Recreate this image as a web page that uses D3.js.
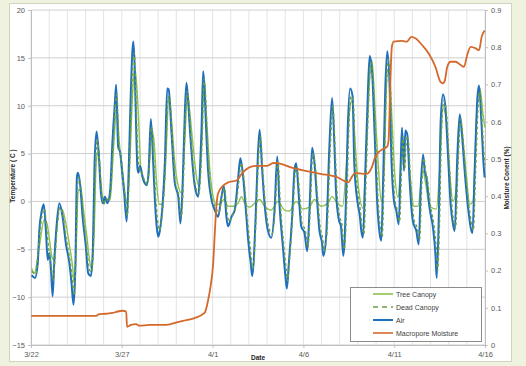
<!DOCTYPE html>
<html>
<head>
<meta charset="utf-8">
<script src="https://cdn.jsdelivr.net/npm/d3@7"></script>
<style>
  body { margin: 0; background: #eef2df; }
  svg { display: block; font-family: "Liberation Sans", Arial, sans-serif; }
</style>
</head>
<body>
<div id="chart"></div>
<script>
// days since 3/22 00:00, value
const dateTicks = ["3/22", "3/27", "4/1", "4/6", "4/11", "4/16"];
const tempTicks = [-15, -10, -5, 0, 5, 10, 15, 20];
const moistTicks = [0, 0.1, 0.2, 0.3, 0.4, 0.5, 0.6, 0.7, 0.8, 0.9];

const air = [[0.04,-7.7],[0.22,-8.0],[0.37,-6.5],[0.46,-3.0],[0.59,-1.0],[0.70,-0.3],[0.82,-3.0],[0.92,-6.1],[1.01,-5.4],
  [1.10,-7.1],[1.19,-9.9],[1.28,-6.4],[1.39,-3.0],[1.56,-0.2],[1.74,-1.6],[1.92,-4.4],[2.11,-6.4],[2.23,-8.5],[2.34,-10.8],
  [2.44,-7.1],[2.53,2.6],[2.58,3.0],[2.71,1.7],[2.84,-1.6],[3.02,-4.7],[3.15,-7.5],[3.30,-7.8],[3.41,-4.7],[3.50,4.0],
  [3.61,7.3],[3.74,4.7],[3.85,0.9],[3.96,-0.2],[4.07,0.5],[4.21,-0.2],[4.36,1.2],[4.49,6.4],[4.62,10.3],[4.69,12.2],
  [4.80,5.7],[4.91,5.1],[5.02,3.0],[5.13,0.9],[5.27,-2.1],[5.38,3.3],[5.49,11.0],[5.59,15.9],[5.64,16.7],[5.71,14.0],
  [5.78,8.5],[5.86,3.5],[5.91,3.0],[6.00,3.7],[6.18,2.3],[6.37,1.7],[6.48,3.3],[6.60,8.6],[6.73,4.0],[6.82,0.2],
  [6.92,-2.6],[7.01,-3.7],[7.10,-3.0],[7.25,-0.2],[7.37,4.0],[7.50,11.8],[7.58,11.7],[7.74,7.1],[7.92,1.9],[8.11,0.5],
  [8.23,-2.3],[8.34,1.2],[8.47,9.2],[8.56,12.4],[8.66,10.3],[8.75,7.5],[8.89,4.0],[9.02,1.6],[9.21,0.5],[9.30,3.0],
  [9.39,7.5],[9.48,13.6],[9.56,11.7],[9.63,8.2],[9.75,3.3],[9.94,0.2],[10.12,-0.9],[10.30,-1.6],[10.49,0.5],[10.62,1.6],
  [10.76,-1.6],[10.85,-2.6],[11.04,-1.6],[11.22,-0.9],[11.40,2.3],[11.53,4.5],[11.68,2.6],[11.86,-1.6],[11.95,-3.8],
  [12.04,-5.5],[12.10,-6.4],[12.18,-7.8],[12.37,-1.6],[12.49,4.7],[12.59,7.5],[12.73,3.3],[12.86,-0.2],[13.04,-3.0],
  [13.23,-3.8],[13.41,-0.9],[13.56,4.7],[13.68,-0.2],[13.87,-4.7],[14.01,-7.8],[14.09,-9.1],[14.20,-6.4],[14.38,-1.6],
  [14.51,3.3],[14.60,4.0],[14.75,0.5],[14.88,-2.6],[15.06,-3.3],[15.21,-5.2],[15.33,-1.2],[15.48,5.6],[15.61,4.0],
  [15.74,0.5],[15.88,-3.0],[16.03,-4.4],[16.10,-5.7],[16.25,-3.7],[16.43,5.7],[16.58,10.8],[16.71,5.7],[16.80,0.9],
  [16.95,-1.9],[17.07,-2.6],[17.20,-5.7],[17.35,0.5],[17.44,7.5],[17.57,11.8],[17.71,11.0],[17.80,4.0],[17.99,-0.2],
  [18.10,-1.4],[18.19,-3.1],[18.28,-3.8],[18.41,3.2],[18.56,11.9],[18.65,15.2],[18.78,13.6],[18.93,6.7],[19.07,-0.3],
  [19.20,-3.4],[19.29,-4.1],[19.38,1.4],[19.51,11.9],[19.62,15.7],[19.75,11.9],[19.84,4.9],[19.99,0],[20.12,-1.0],
  [20.25,-2.4],[20.36,4.2],[20.43,7.7],[20.54,3.2],[20.61,7.4],[20.72,7.0],[20.85,2.1],[21.03,-2.1],[21.22,-3.1],
  [21.35,-4.5],[21.46,1.4],[21.59,4.9],[21.68,3.2],[21.77,2.5],[21.95,-0.7],[22.14,-2.8],[22.27,-5.5],[22.34,-8.0],
  [22.45,-2.1],[22.56,8.4],[22.69,11.2],[22.82,9.8],[22.96,4.9],[23.11,-0.3],[23.24,-2.4],[23.33,-3.1],[23.48,4.9],
  [23.61,9.1],[23.73,7.0],[23.88,3.2],[24.07,-0.7],[24.31,-3.3],[24.43,3.2],[24.58,10.8],[24.67,12.1],[24.80,8.4],
  [24.91,4.2],[24.98,2.5]];

const treeCanopy = [[0.04,-7.0],[0.18,-7.5],[0.46,-4.7],[0.73,-1.9],[0.88,-2.3],[1.00,-3.7],[1.14,-5.7],[1.25,-6.1],
  [1.37,-3.7],[1.59,-0.7],[1.74,-0.9],[1.92,-2.3],[2.10,-4.4],[2.29,-6.8],[2.38,-8.5],[2.49,-4.7],[2.60,1.2],[2.75,1.2],
  [2.89,-0.9],[3.08,-3.7],[3.22,-6.1],[3.35,-7.1],[3.48,-3.0],[3.59,4.0],[3.72,5.4],[3.81,3.0],[3.94,0.5],[4.12,0],
  [4.36,0.3],[4.54,5.4],[4.73,9.9],[4.85,6.4],[5.04,3.3],[5.22,0.2],[5.31,-0.2],[5.44,4.0],[5.59,11.0],[5.71,14.1],
  [5.86,11.0],[5.96,7.0],[6.05,3.3],[6.27,1.9],[6.46,2.3],[6.64,7.5],[6.77,6.4],[6.92,1.9],[7.06,-0.3],[7.25,-0.3],
  [7.43,4.7],[7.59,11.0],[7.74,8.5],[7.92,4.0],[8.11,1.6],[8.29,0.9],[8.47,6.4],[8.62,11.3],[8.75,9.2],[8.93,5.7],
  [9.11,2.6],[9.26,1.6],[9.41,6.4],[9.53,12.7],[9.66,8.9],[9.85,3.3],[10.03,0.5],[10.21,-0.3],[10.40,-0.3],[10.62,0.2],
  [10.85,-0.5],[11.13,-0.5],[11.40,-0.2],[11.59,0.5],[11.77,-0.2],[12.04,-0.6],[12.31,-0.2],[12.59,0.2],[12.86,-0.5],
  [13.23,-0.9],[13.59,0],[13.96,-0.9],[14.23,-1.0],[14.60,0],[14.97,-0.8],[15.33,-0.6],[15.61,0.2],[15.97,-0.5],
  [16.34,-0.2],[16.58,0.5],[16.90,-0.3],[17.16,-0.5],[17.35,3.3],[17.53,9.2],[17.68,10.6],[17.80,7.5],[17.99,2.3],
  [18.28,-0.7],[18.46,4.9],[18.65,12.9],[18.78,14.7],[18.93,10.1],[19.11,4.2],[19.29,0],[19.44,3.2],[19.62,13.6],
  [19.75,13.3],[19.88,8.4],[20.02,3.2],[20.21,0.4],[20.39,4.2],[20.54,5.6],[20.72,6.0],[20.90,2.1],[21.08,-0.5],
  [21.31,-0.5],[21.58,3.2],[21.77,1.4],[21.95,-0.5],[22.32,-0.8],[22.50,3.2],[22.69,9.8],[22.87,8.4],[23.05,3.2],
  [23.24,0],[23.42,1.4],[23.64,8.7],[23.79,6.3],[23.97,2.8],[24.16,-0.3],[24.34,0],[24.53,8.4],[24.71,11.9],
  [24.89,9.1],[25.00,7.7]];

const deadCanopy = [[0.05,-7.3],[0.25,-7.6],[0.45,-4.0],[0.6,-1.5],[0.74,-0.8],[0.86,-2.8],[0.98,-5.0],[1.1,-6.5],
  [1.22,-8.3],[1.32,-6.0],[1.45,-2.5],[1.6,-0.6],[1.76,-1.5],[1.95,-4.0],[2.15,-6.2],[2.3,-8.5],[2.38,-9.8],[2.47,-6.0],
  [2.56,1.5],[2.62,2.5],[2.76,1.2],[2.9,-1.8],[3.05,-4.5],[3.2,-7.0],[3.33,-7.4],[3.45,-4.0],[3.54,3.0],[3.64,6.5],
  [3.77,4.2],[3.9,0.5],[4.0,-0.3],[4.15,0.3],[4.3,0],[4.4,1.5],[4.53,6.0],[4.66,10.5],[4.73,11.2],[4.84,6.0],[4.95,4.5],
  [5.08,2.0],[5.2,0.3],[5.3,-1.5],[5.42,3.5],[5.53,10.5],[5.63,15.2],[5.68,15.5],[5.76,12.0],[5.86,6.0],[5.95,3.5],
  [6.1,3.0],[6.25,2.2],[6.4,1.8],[6.52,4.0],[6.63,7.8],[6.76,4.5],[6.86,0.6],[6.97,-2.0],[7.06,-3.0],[7.15,-2.5],
  [7.3,0.3],[7.42,4.5],[7.54,10.8],[7.62,11.0],[7.78,6.5],[7.95,2.0],[8.14,0.6],[8.27,-1.6],[8.38,1.5],[8.5,8.8],
  [8.6,11.5],[8.7,10.0],[8.8,7.0],[8.93,3.8],[9.06,1.6],[9.24,0.8],[9.35,3.2],[9.44,7.5],[9.52,12.8],[9.6,11.5],
  [9.68,8.0],[9.8,3.2],[9.98,0.3],[10.16,-0.6],[10.34,-1.2],[10.52,0.6],[10.65,1.4],[10.8,-1.2],[10.9,-2.1],
  [11.08,-1.4],[11.26,-0.7],[11.44,2.0],[11.57,4.0],[11.72,2.4],[11.9,-1.5],[12.08,-5.0],[12.22,-7.0],[12.4,-1.5],
  [12.52,4.2],[12.63,6.8],[12.77,3.0],[12.9,-0.2],[13.08,-2.6],[13.27,-3.4],[13.45,-0.6],[13.6,4.2],[13.72,0],
  [13.9,-4.2],[14.05,-7.0],[14.13,-8.3],[14.24,-6.0],[14.42,-1.2],[14.55,3.0],[14.64,3.6],[14.8,0.5],[14.92,-2.3],
  [15.1,-3.0],[15.25,-4.8],[15.37,-1.0],[15.52,5.0],[15.65,3.8],[15.78,0.5],[15.92,-2.6],[16.07,-4.0],[16.14,-5.2],
  [16.3,-3.2],[16.47,5.2],[16.62,10.0],[16.75,5.4],[16.85,1.0],[17.0,-1.6],[17.12,-2.4],[17.25,-5.0],[17.4,0.6],
  [17.49,7.0],[17.62,11.0],[17.76,10.0],[17.86,4.0],[18.04,0.5],[18.15,-1.2],[18.24,-2.8],[18.33,-3.4],[18.46,3.0],
  [18.6,11.2],[18.7,14.5],[18.83,13.0],[18.98,6.5],[19.12,-0.1],[19.25,-3.0],[19.34,-3.7],[19.43,1.5],[19.56,11.5],
  [19.67,14.8],[19.8,11.5],[19.9,4.8],[20.04,0.2],[20.17,-0.9],[20.3,-2.1],[20.41,3.8],[20.48,6.8],[20.59,3.5],
  [20.66,6.8],[20.77,6.5],[20.9,2.2],[21.08,-1.8],[21.27,-2.8],[21.4,-4.0],[21.51,1.4],[21.64,4.5],[21.73,3.2],
  [21.82,2.4],[22.0,-0.5],[22.19,-2.5],[22.32,-5.0],[22.39,-7.2],[22.5,-2.0],[22.61,7.8],[22.74,10.5],[22.87,9.5],
  [23.01,4.8],[23.16,-0.1],[23.29,-2.2],[23.38,-2.8],[23.53,4.5],[23.66,8.6],[23.78,6.8],[23.93,3.0],[24.12,-0.5],
  [24.36,-3.0],[24.48,3.0],[24.63,10.2],[24.72,11.5],[24.85,8.0],[24.96,4.5],[25.0,3.8]];

const moisture = [[0.02,0.078],[3.58,0.078],[3.76,0.083],[4.13,0.084],[4.5,0.086],[4.77,0.09],[5.05,0.092],[5.24,0.09],
  [5.29,0.049],[5.51,0.054],[5.79,0.056],[5.97,0.052],[6.53,0.054],[7.45,0.054],[8.19,0.063],[8.37,0.065],[8.92,0.071],
  [9.57,0.087],[9.75,0.12],[9.88,0.155],[10.03,0.218],[10.12,0.30],[10.18,0.353],[10.3,0.407],[10.58,0.428],
  [10.86,0.437],[11.32,0.442],[11.6,0.46],[12.06,0.478],[12.43,0.481],[12.98,0.481],[13.35,0.489],[13.72,0.487],
  [14.27,0.478],[15.0,0.469],[15.93,0.46],[16.85,0.451],[17.48,0.437],[17.66,0.451],[17.85,0.462],[18.31,0.46],
  [18.49,0.46],[18.77,0.478],[18.95,0.505],[19.14,0.518],[19.41,0.527],[19.6,0.532],[19.69,0.55],[19.78,0.693],
  [19.87,0.801],[19.97,0.815],[20.43,0.817],[20.7,0.815],[20.8,0.82],[20.94,0.828],[21.17,0.824],[21.53,0.806],
  [21.9,0.783],[22.27,0.747],[22.55,0.707],[22.68,0.703],[22.79,0.711],[22.92,0.747],[23.1,0.761],[23.38,0.761],
  [23.66,0.752],[23.84,0.747],[24.02,0.779],[24.21,0.801],[24.49,0.797],[24.67,0.792],[24.82,0.828],[24.94,0.842],
  [25.0,0.844]];

const colors = {tree: '#8cc152', dead: '#6a9e45', air: '#1f6fbd', moist: '#d5692b'};

const W = 526, H = 366;
const plot = {left: 31, right: 485, top: 10, bottom: 345};

const parseDate = d3.utcParse('%m/%d/%Y');
const tickDates = dateTicks.map(t => parseDate(t + '/2013'));
const start = tickDates[0], end = tickDates[tickDates.length - 1];
const toDate = d => new Date(start.getTime() + d * 864e5);

const x = d3.scaleUtc().domain([start, end]).range([plot.left, plot.right]);
const yT = d3.scaleLinear().domain([-15, 20]).range([plot.bottom, plot.top]);
const yM = d3.scaleLinear().domain([0, 0.9]).range([plot.bottom, plot.top]);

const svg = d3.select('#chart').append('svg')
    .attr('width', W)
    .attr('height', H);

svg.append('rect')
    .attr('x', 9.5).attr('y', 3.5)
    .attr('width', 502).attr('height', 358)
    .attr('fill', '#fff')
    .attr('stroke', '#cfd6bf');

// day gridlines
svg.append('g')
    .selectAll('line')
    .data(d3.utcDay.range(start, d3.utcDay.offset(end, 1)))
    .join('line')
    .attr('x1', d => x(d)).attr('x2', d => x(d))
    .attr('y1', plot.top).attr('y2', plot.bottom)
    .attr('stroke', '#e3e3e3')
    .attr('stroke-width', 1);

svg.append('g')
    .selectAll('line')
    .data(tempTicks)
    .join('line')
    .attr('x1', plot.left).attr('x2', plot.right)
    .attr('y1', d => yT(d)).attr('y2', d => yT(d))
    .attr('stroke', '#cfcfcf')
    .attr('stroke-width', 1);

const styleAxis = g => {
    g.select('.domain').attr('stroke', '#bfbfbf');
    g.selectAll('.tick line').attr('stroke', '#bfbfbf');
    g.selectAll('.tick text')
        .attr('fill', '#595959')
        .style('font-size', '7.5px');
};

svg.append('g')
    .attr('transform', `translate(${plot.left},0)`)
    .call(d3.axisLeft(yT).tickValues(tempTicks).tickSize(3).tickPadding(3))
    .call(styleAxis);

svg.append('g')
    .attr('transform', `translate(${plot.right},0)`)
    .call(d3.axisRight(yM).tickValues(moistTicks).tickSize(3).tickPadding(3)
        .tickFormat(d => d === 0 ? '0' : d3.format('.1f')(d)))
    .call(styleAxis);

svg.append('g')
    .attr('transform', `translate(0,${plot.bottom})`)
    .call(d3.axisBottom(x).tickValues(tickDates).tickSize(3).tickPadding(4)
        .tickFormat((d, i) => dateTicks[i]))
    .call(styleAxis);

const lineT = d3.line()
    .x(d => x(toDate(d[0])))
    .y(d => yT(d[1]))
    .curve(d3.curveMonotoneX);

const lineM = d3.line()
    .x(d => x(toDate(d[0])))
    .y(d => yM(d[1]))
    .curve(d3.curveMonotoneX);

svg.append('path').datum(treeCanopy)
    .attr('d', lineT).attr('fill', 'none')
    .attr('stroke', colors.tree).attr('stroke-width', 1.4);

svg.append('path').datum(air)
    .attr('d', lineT).attr('fill', 'none')
    .attr('stroke', colors.air).attr('stroke-width', 2);

svg.append('path').datum(deadCanopy)
    .attr('d', lineT).attr('fill', 'none')
    .attr('stroke', colors.dead).attr('stroke-width', 1.4)
    .attr('stroke-dasharray', '3,2.5');

svg.append('path').datum(moisture)
    .attr('d', lineM).attr('fill', 'none')
    .attr('stroke', colors.moist).attr('stroke-width', 1.8);

// axis titles
svg.append('text')
    .attr('transform', 'translate(15,176) rotate(-90)')
    .attr('text-anchor', 'middle')
    .style('font-size', '6.5px').style('font-weight', 'bold')
    .attr('fill', '#262626')
    .text('Temperature ( C )');

svg.append('text')
    .attr('transform', 'translate(509,178) rotate(-90)')
    .attr('text-anchor', 'middle')
    .style('font-size', '6.5px').style('font-weight', 'bold')
    .attr('fill', '#262626')
    .text('Moisture Conent (%)');

svg.append('text')
    .attr('x', 258).attr('y', 360)
    .attr('text-anchor', 'middle')
    .style('font-size', '6.5px').style('font-weight', 'bold')
    .attr('fill', '#262626')
    .text('Date');

// legend
const legendItems = [
    {name: 'Tree Canopy', color: colors.tree, dash: null},
    {name: 'Dead Canopy', color: colors.dead, dash: '5,4'},
    {name: 'Air', color: colors.air, dash: null},
    {name: 'Macropore Moisture', color: colors.moist, dash: null}
];

const legend = svg.append('g');
legend.append('rect')
    .attr('x', 350.5).attr('y', 287.5)
    .attr('width', 131).attr('height', 54)
    .attr('fill', '#fff').attr('stroke', '#8c8c8c');

const entry = legend.selectAll('g.entry')
    .data(legendItems)
    .join('g')
    .attr('class', 'entry')
    .attr('transform', (d, i) => `translate(0,${294 + i * 13})`);

entry.append('line')
    .attr('x1', 373).attr('x2', 393)
    .attr('stroke', d => d.color)
    .attr('stroke-width', d => d.name === 'Air' ? 2 : 1.6)
    .attr('stroke-dasharray', d => d.dash);

entry.append('text')
    .attr('x', 396).attr('y', 2.5)
    .style('font-size', '7px')
    .attr('fill', '#404040')
    .text(d => d.name);
</script>
</body>
</html>
